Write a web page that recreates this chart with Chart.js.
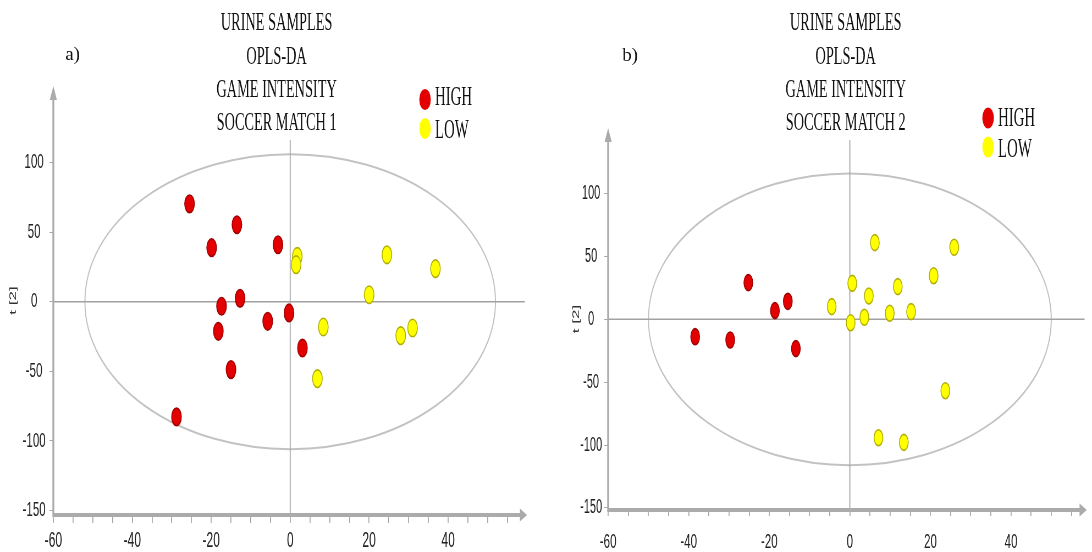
<!DOCTYPE html>
<html>
<head>
<meta charset="utf-8">
<script src="https://cdn.jsdelivr.net/npm/chart.js@4/dist/chart.umd.min.js"></script>
<style>
  body { margin: 0; background: #fff; }
  #wrap { display: flex; width: 1092px; height: 552px; overflow: hidden; }
</style>
</head>
<body>
<div id="wrap">
  <canvas id="matchA" width="993" height="552" style="width:546px;height:552px"></canvas>
  <canvas id="matchB" width="993" height="552" style="width:546px;height:552px"></canvas>
</div>
<script>
// values (t[1] on x, t[2] on y)
let titleA = ['URINE SAMPLES', 'OPLS-DA', 'GAME INTENSITY', 'SOCCER MATCH 1'];
let titleB = ['URINE SAMPLES', 'OPLS-DA', 'GAME INTENSITY', 'SOCCER MATCH 2'];
let groups = ['HIGH', 'LOW'];
let xTicks = [-60, -40, -20, 0, 20, 40];
let yTicks = [-150, -100, -50, 0, 50, 100];

let highXA = [-25.5, -13.5, -19.9, -3.1, -12.7, -17.4, -18.2, -5.7, -0.3, 3.1, -15, -28.8];
let highYA = [70.3, 55.3, 38.8, 40.9, 2.4, -3.3, -21.3, -14.1, -8.1, -33.3, -48.8, -82.8];
let lowXA = [1.8, 1.5, 24.5, 36.8, 20, 8.4, 31, 28, 6.9];
let lowYA = [32.5, 26.6, 33.7, 23.7, 5.0, -18.2, -18.9, -24.4, -55.3];
let ellipseA = [52, 106];   // Hotelling T2 ellipse half-axes

let highXB = [-25.2, -15.4, -18.6, -38.4, -29.7, -13.4];
let highYB = [29.2, 14.3, 6.9, -13.8, -16.4, -23.3];
let lowXB = [6.2, 25.9, 20.8, 0.6, 11.9, 4.7, -4.5, 15.2, 9.9, 3.6, 0.2, 23.7, 7.1, 13.4];
let lowYB = [61, 57.3, 34.7, 28.6, 26, 18.6, 10.1, 6.1, 4.8, 1.6, -2.7, -56.8, -94.2, -97.9];
let ellipseB = [50, 116];

Chart.defaults.font.family = '"Liberation Sans Narrow", "Liberation Sans", Arial, sans-serif';

function toPoints(xs, ys) {
    let pts = [];
    for (let i in xs) {
        pts.push({x: xs[i], y: ys[i]});
    }
    return pts;
}

// ellipse, zero lines, arrow axes, titles and legend of the original figure
const figurePlugin = {
    id: 'figure',
    beforeDatasetsDraw(chart, args, o) {
        const ctx = chart.ctx, a = chart.chartArea;
        const x = chart.scales.x, y = chart.scales.y;
        const x0 = x.getPixelForValue(0), y0 = y.getPixelForValue(0);
        ctx.save();
        ctx.strokeStyle = '#c2c2c2';
        ctx.lineWidth = 2;
        ctx.beginPath();
        ctx.ellipse(x0, y0, x.getPixelForValue(o.ellipse[0]) - x0, y0 - y.getPixelForValue(o.ellipse[1]), 0, 0, 2 * Math.PI);
        ctx.stroke();

        ctx.strokeStyle = '#a2a2a2';
        ctx.lineWidth = 1.5;
        ctx.beginPath();
        ctx.moveTo(a.left, y0);
        ctx.lineTo(a.right - 4, y0);
        ctx.stroke();
        ctx.lineWidth = 1.8;
        ctx.beginPath();
        ctx.moveTo(x0, o.zeroTop);
        ctx.lineTo(x0, a.bottom);
        ctx.stroke();

        ctx.strokeStyle = '#ababab';
        ctx.fillStyle = '#ababab';
        ctx.lineWidth = 3.4;
        ctx.beginPath();
        ctx.moveTo(a.left, a.bottom + 2);
        ctx.lineTo(a.left, a.top + 12);
        ctx.stroke();
        ctx.beginPath();
        ctx.moveTo(a.left, a.top);
        ctx.lineTo(a.left - 6.5, a.top + 14);
        ctx.lineTo(a.left + 6.5, a.top + 14);
        ctx.closePath();
        ctx.fill();
        ctx.lineWidth = 4;
        ctx.beginPath();
        ctx.moveTo(a.left, a.bottom);
        ctx.lineTo(a.right - 10, a.bottom);
        ctx.stroke();
        ctx.beginPath();
        ctx.moveTo(a.right, a.bottom);
        ctx.lineTo(a.right - 13, a.bottom - 6.5);
        ctx.lineTo(a.right - 13, a.bottom + 6.5);
        ctx.closePath();
        ctx.fill();
        ctx.restore();
    },
    afterDraw(chart, args, o) {
        const ctx = chart.ctx;
        ctx.save();
        ctx.fillStyle = '#111';
        ctx.textAlign = 'center';
        ctx.textBaseline = 'alphabetic';
        ctx.font = '26px "Liberation Serif", serif';
        o.title.forEach((line, i) => ctx.fillText(line, o.titleX, o.titleY[i]));

        ctx.save();
        ctx.translate(o.tag.x, o.tag.y);
        ctx.scale(1.9, 1);
        ctx.font = '18px "Liberation Serif", serif';
        ctx.fillText(o.tag.text, 0, 0);
        ctx.restore();

        ctx.textAlign = 'left';
        ctx.font = '27px "Liberation Serif", serif';
        chart.data.datasets.forEach((ds, i) => {
            ctx.fillStyle = ds.backgroundColor;
            ctx.beginPath();
            ctx.arc(o.legendX, o.legendY[i], 10.5, 0, 2 * Math.PI);
            ctx.fill();
            ctx.fillStyle = '#111';
            ctx.fillText(ds.label, o.legendX + 18, o.legendText[i]);
        });
        ctx.restore();
    }
};

function makeChart(id, p) {
    let datasets = [
        {label: groups[0], data: toPoints(p.highX, p.highY), backgroundColor: '#e30000', borderColor: '#a00000'},
        {label: groups[1], data: toPoints(p.lowX, p.lowY), backgroundColor: '#ffff00', borderColor: '#b0ae00'}
    ];
    datasets.forEach(ds => {
        ds.pointRadius = p.radius;
        ds.pointHoverRadius = p.radius;
        ds.pointBorderWidth = 1.6;
    });

    return new Chart(document.getElementById(id), {
        type: 'scatter',
        data: {datasets: datasets},
        options: {
            responsive: false,
            devicePixelRatio: 1,
            animation: false,
            events: [],
            layout: {padding: {left: 0, right: p.padRight, top: p.padTop, bottom: 0}},
            plugins: {
                legend: {display: false},
                tooltip: {enabled: false},
                figure: {
                    ellipse: p.ellipse, zeroTop: 140, title: p.title,
                    titleX: p.titleX, titleY: [30, 64, 96.5, 130],
                    tag: p.tag, legendX: p.legendX, legendY: p.legendY, legendText: p.legendText
                }
            },
            scales: {
                x: {
                    type: 'linear', min: -60, max: p.xMax,
                    border: {display: false},
                    grid: {
                        drawOnChartArea: false, tickLength: p.xTickLen, lineWidth: 1.8,
                        tickColor: c => c.tick && c.tick.value > 55 ? 'rgba(0,0,0,0)' : '#a8a8a8'
                    },
                    ticks: {
                        stepSize: 5, autoSkip: false, maxRotation: 0, minRotation: 0,
                        includeBounds: false, padding: p.xPad, color: '#222',
                        font: {size: p.xFont},
                        callback: v => xTicks.includes(v) ? v : ''
                    },
                    afterFit: s => { s.height = p.xHeight; }
                },
                y: {
                    type: 'linear', min: p.yMin, max: p.yMax,
                    border: {display: false},
                    grid: {
                        drawOnChartArea: false, tickLength: 7, lineWidth: 1,
                        tickColor: c => c.tick && c.tick.value > 100 ? 'rgba(0,0,0,0)' : '#a8a8a8'
                    },
                    ticks: {
                        stepSize: 50, includeBounds: false, crossAlign: 'center',
                        padding: p.yPad, color: '#222', font: {size: p.yFont},
                        callback: v => yTicks.includes(v) ? v : ''
                    },
                    title: {
                        display: true, text: 't [2]', color: '#333',
                        font: {size: 17, family: '"Liberation Sans", Arial, sans-serif'},
                        padding: {top: p.titlePad, bottom: 0}
                    },
                    afterFit: s => { s.width = p.yWidth; }
                }
            }
        },
        plugins: [figurePlugin]
    });
}

makeChart('matchA', {
    highX: highXA, highY: highYA, lowX: lowXA, lowY: lowYA, ellipse: ellipseA,
    title: titleA, titleX: 503, tag: {text: 'a)', x: 132, y: 59.5},
    legendX: 773, legendY: [99.5, 128.5], legendText: [105, 138],
    yMin: -153.3, yMax: 155, xMax: 60, padRight: 34.5, padTop: 86,
    yWidth: 97, xHeight: 37, xTickLen: 8, xPad: 5, yPad: 7, xFont: 22, yFont: 21,
    titlePad: 14, radius: 8.8
});

makeChart('matchB', {
    highX: highXB, highY: highYB, lowX: lowXB, lowY: lowYB, ellipse: ellipseB,
    title: titleB, titleX: 545, tag: {text: 'b)', x: 153, y: 61},
    legendX: 804, legendY: [118, 147], legendText: [125.6, 157],
    yMin: -151.7, yMax: 152.2, xMax: 58.8, padRight: 0, padTop: 128,
    yWidth: 113, xHeight: 42, xTickLen: 6, xPad: 14, yPad: 4, xFont: 21, yFont: 20,
    titlePad: 45, radius: 8
});
</script>
</body>
</html>
